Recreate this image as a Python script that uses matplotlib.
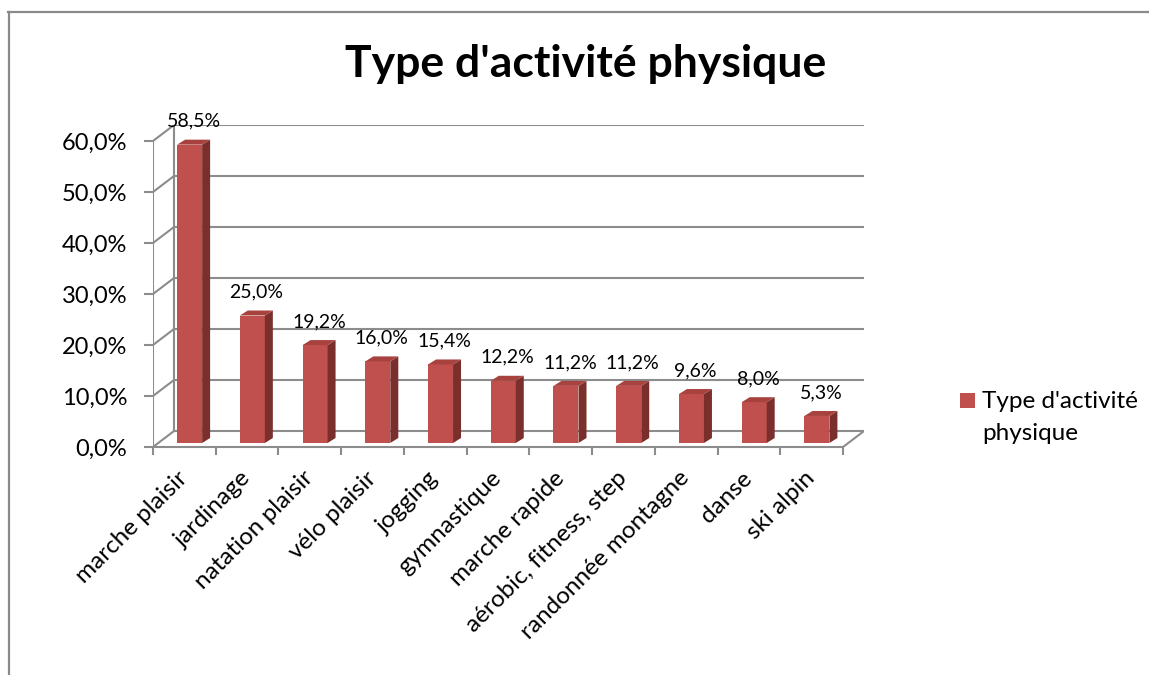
import matplotlib
matplotlib.use("Agg")
import matplotlib.pyplot as plt
from matplotlib.patches import Rectangle, Polygon
from matplotlib.lines import Line2D

# ---------------------------------------------------------------------------
# Data
# ---------------------------------------------------------------------------

TITLE = "Type d'activité physique"
SERIES = "Type d'activité physique"
CATEGORIES = [
    "marche plaisir", "jardinage", "natation plaisir", "vélo plaisir",
    "jogging", "gymnastique", "marche rapide", "aérobic, fitness, step",
    "randonnée montagne", "danse", "ski alpin",
]
VALUES = [58.5, 25.0, 19.2, 16.0, 15.4, 12.2, 11.2, 11.2, 9.6, 8.0, 5.3]
Y_TICKS = [0, 10, 20, 30, 40, 50, 60]

# ---------------------------------------------------------------------------
# Style
# ---------------------------------------------------------------------------

FONT = "Lato"
GRID = "#8c8c8c"
FRONT = "#C0504D"
SIDE = "#7B2F2D"
TOP = "#A8423F"

W, H = 1149, 675
PX_CAT = 62.73      # pixels per category
PX_PCT = 5.1        # pixels per percent
DX = 21 / PX_CAT    # wall depth, in data units
DY = 16 / PX_PCT
BW = 25 / PX_CAT    # bar width
FX, FY = 5.25 / PX_CAT, 4 / PX_PCT   # bar front face offset
BDX, BDY = 8 / PX_CAT, 5 / PX_PCT    # bar depth

plt.rcParams["font.family"] = [FONT, "DejaVu Sans"]


def pct(v):
    return f"{v:.1f}%".replace(".", ",")


fig = plt.figure(figsize=(W / 100, H / 100), dpi=100)
n = len(CATEGORIES)
xmax = n + DX
ymax = Y_TICKS[-1] + DY
left, bottom = 153, 447
ax = fig.add_axes([left / W, (H - bottom) / H,
                   xmax * PX_CAT / W, ymax * PX_PCT / H])
ax.set_xlim(0, xmax)
ax.set_ylim(0, ymax)
for s in ax.spines.values():
    s.set_visible(False)
ax.patch.set_visible(False)

lw = 1.5
# back wall gridlines and left-wall diagonals
for v in Y_TICKS:
    ax.plot([DX, n + DX], [v + DY, v + DY], color=GRID, lw=lw, zorder=1)
    ax.plot([0, DX], [v, v + DY], color=GRID, lw=lw, zorder=1)
ax.plot([DX, DX], [DY, Y_TICKS[-1] + DY], color=GRID, lw=lw, zorder=1)
# floor
ax.plot([0, n], [0, 0], color=GRID, lw=lw, zorder=1, clip_on=False)
ax.plot([n, n + DX], [0, DY], color=GRID, lw=lw, zorder=1)
ax.plot([0, 0], [0, Y_TICKS[-1]], color=GRID, lw=lw, zorder=1)

# bars
for i, v in enumerate(VALUES):
    x0 = i + 0.5 - BW / 2 + FX
    x1 = x0 + BW
    y0 = FY
    top = FY + v
    ax.add_patch(Rectangle((x0, y0), BW, v, facecolor=FRONT,
                           edgecolor="none", zorder=3))
    ax.add_patch(Polygon([(x1, y0), (x1 + BDX, y0 + BDY),
                          (x1 + BDX, top + BDY), (x1, top)],
                         closed=True, facecolor=SIDE, edgecolor="none",
                         zorder=3))
    ax.add_patch(Polygon([(x0, top), (x1, top), (x1 + BDX, top + BDY),
                          (x0 + BDX, top + BDY)],
                         closed=True, facecolor=TOP, edgecolor="none",
                         zorder=3))
    ax.text(i + 0.5 + FX + BDX / 2, top + BDY + 13 / PX_PCT, pct(v),
            ha="center", va="baseline", fontsize=14, color="black",
            zorder=4)

# y axis
ax.set_yticks(Y_TICKS)
ax.set_yticklabels([pct(v) for v in Y_TICKS])
ax.tick_params(axis="y", length=6.5, width=lw, color=GRID, pad=12,
               labelsize=17)

# x axis: ticks at category boundaries, labels at centres
ax.set_xticks(range(n + 1))
ax.set_xticklabels([])
ax.set_xticks([i + 0.5 for i in range(n)], minor=True)
ax.set_xticklabels(CATEGORIES, minor=True, rotation=45, ha="right",
                   va="center", rotation_mode="anchor")
ax.tick_params(axis="x", which="major", length=6, width=lw, color=GRID,
               direction="out")
ax.tick_params(axis="x", which="minor", length=0, pad=20, labelsize=17.5)

# title
fig.text(586 / W, 1 - 77 / H, TITLE, ha="center", va="baseline",
         fontsize=32, fontweight="bold")

# legend
fig.patches.append(Rectangle((960 / W, 1 - 408 / H), 15 / W, 15 / H,
                             transform=fig.transFigure, facecolor=FRONT,
                             edgecolor="none"))
fig.text(982 / W, 1 - 408 / H, "Type d'activité", ha="left",
         va="baseline", fontsize=17.5)
fig.text(982 / W, 1 - 440 / H, "physique", ha="left", va="baseline",
         fontsize=17.5)

# chart border
fig.add_artist(Line2D([8 / W, 1], [1 - 11.5 / H, 1 - 11.5 / H],
                      transform=fig.transFigure, color="#8a8a8a", lw=1.6))
fig.add_artist(Line2D([9 / W, 9 / W], [0, 1 - 11.5 / H],
                      transform=fig.transFigure, color="#8a8a8a", lw=1.6))

fig.savefig("out.png", dpi=100)
